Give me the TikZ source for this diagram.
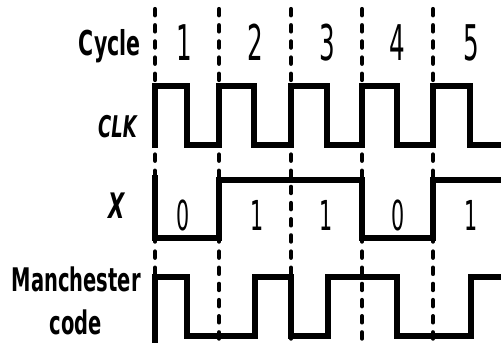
\documentclass[tikz,border=0pt]{standalone}
\usepackage{fontspec}
\usepackage{tikz}

\newfontfamily\labelfont[FakeStretch=0.6]{DejaVu Sans}
\newfontfamily\digitfont[FakeStretch=0.5]{DejaVu Sans}

\begin{document}
\begin{tikzpicture}[x=0.02cm, y=-0.02cm,
    wave/.style={line width=3.4pt, line join=miter, line cap=rect},
    boundary/.style={line width=2.4pt, line cap=round, dash pattern=on 3.6pt off 5.6pt},
    sig label/.style={inner sep=0pt, anchor=base east},
    bit/.style={inner sep=0pt, anchor=base}]

\useasboundingbox (0,0) rectangle (501,342);

%% cycle boundaries
\foreach \c [count=\i] in {155,219,291,362,433} {
  \coordinate (top-\i) at (\c,9);
  \coordinate (bottom-\i) at (\c,350);
  \draw [boundary] (top-\i) -- (bottom-\i);
}

\foreach \x [count=\l] in {184,255,327,397,471}
  \node [bit, font=\digitfont\fontsize{28}{30}\selectfont] (cycle-\l) at (\x,60) {\l};

%% signals
\draw [wave] (155,145) \foreach \m/\b in {187/219,254/291,327/362,397/433,470/520} { |- (\m,86) |- (\b,145) };

\draw [wave] (155,178) |- (219,238) |- (362,180) |- (433,238) |- (520,180);

\draw [wave] (155,350) |- (187,277) |- (255,336) |- (291,277) |- (328,336)
  |- (397,277) |- (471,336) |- (520,277);

\foreach \x/\v [count=\i] in {183/0,257/1,326/1,398/0,471/1}
  \node [bit, font=\digitfont\fontsize{23.5}{25}\selectfont] (bit-\i) at (\x,230) {\v};

%% signal names
\node [sig label, font=\labelfont\bfseries\fontsize{19.5}{22}\selectfont] (cycle) at (141,55) {Cycle};
\node [sig label, font=\labelfont\bfseries\itshape\fontsize{17}{20}\selectfont] (clk) at (137,137) {CLK};
\node [sig label, font=\labelfont\bfseries\itshape\fontsize{20}{22}\selectfont] (x) at (125,218) {X};
\node [sig label, font=\labelfont\bfseries\fontsize{18.5}{20}\selectfont] (manchester) at (141,291) {Manchester};
\node [bit, font=\labelfont\bfseries\fontsize{18.5}{20}\selectfont] (code) at (76,334) {code};

\end{tikzpicture}
\end{document}
